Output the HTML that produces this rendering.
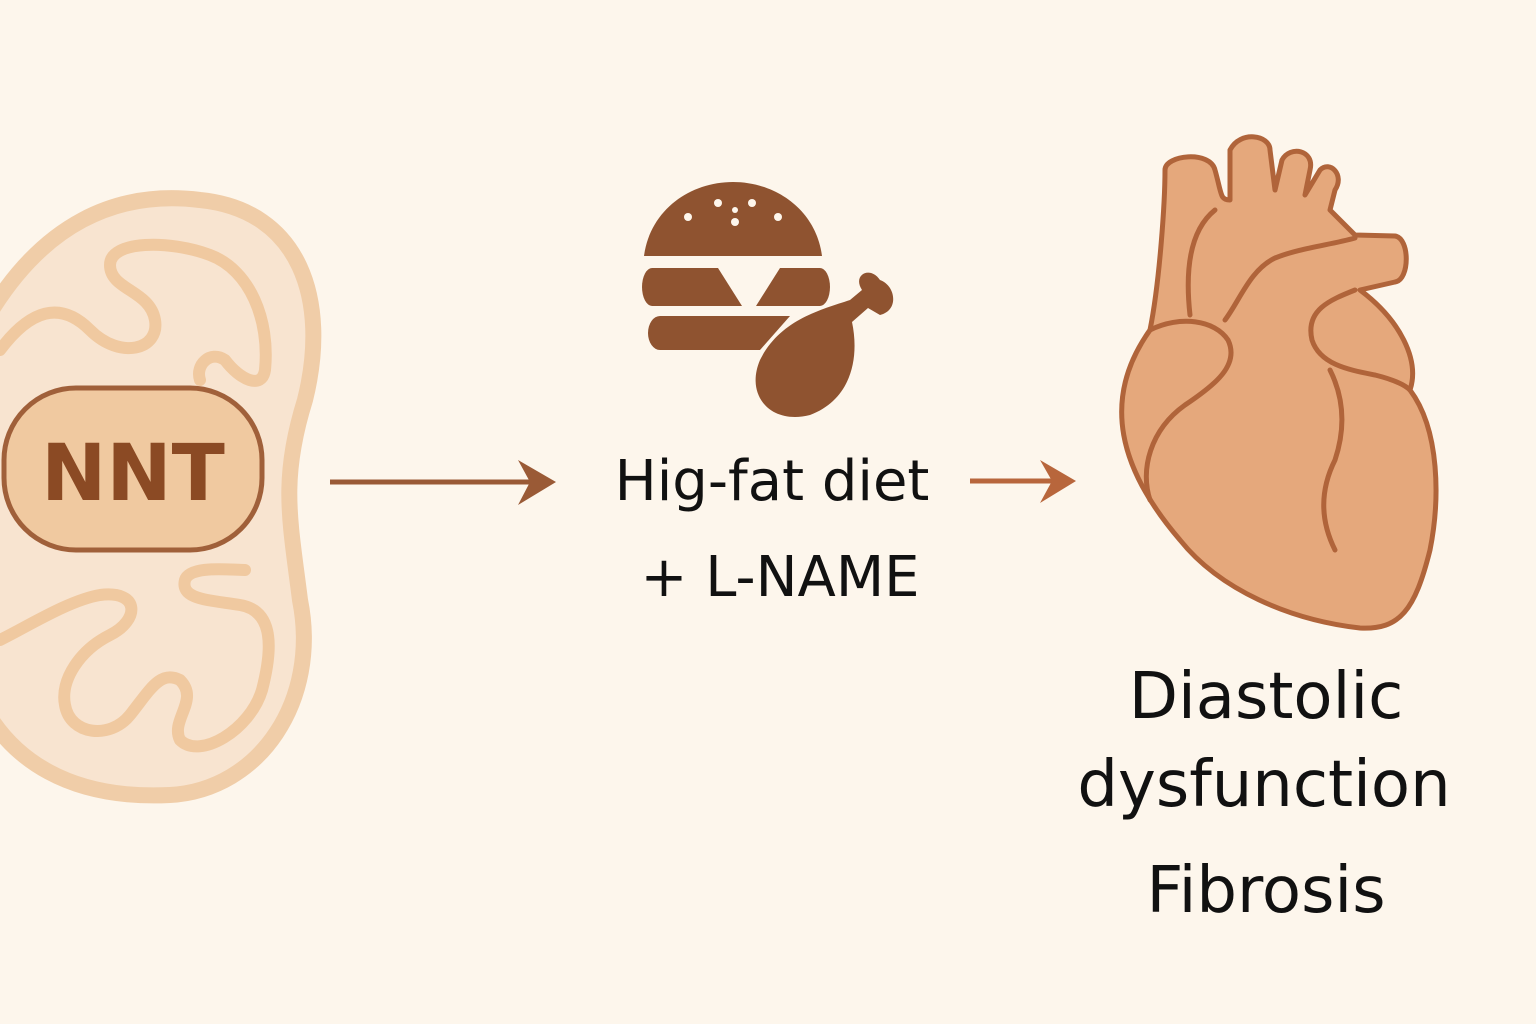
<!DOCTYPE html>
<html><head><meta charset="utf-8"><style>
html,body{margin:0;padding:0;background:#fdf6ec;}
svg{display:block;}
text{font-family:"DejaVu Sans","Liberation Sans",sans-serif;}
</style></head><body>
<svg width="1536" height="1024" viewBox="0 0 1536 1024" xmlns="http://www.w3.org/2000/svg">
<rect width="1536" height="1024" fill="#fdf6ec"/>
<path d="M-20 330 C40 220 120 190 200 200 C300 210 330 300 305 400 C280 480 290 520 300 600 C320 700 260 790 170 795 C70 800 10 760 -20 700 Z" fill="#f8e4d0" stroke="#f0cda8" stroke-width="16"/>
<g fill="none" stroke="#f0c9a0" stroke-width="12" stroke-linecap="round" stroke-linejoin="round">
<path d="M0 350 C30 310 60 300 90 330 C120 360 160 350 155 320 C150 290 110 290 110 265 C110 240 170 240 210 255 C250 270 270 320 265 370 C262 390 240 380 225 360 C210 350 195 365 200 380"/>
<path d="M0 640 C30 625 70 600 100 595 C140 590 140 620 110 635 C80 650 60 680 65 705 C70 735 110 740 130 715 C150 690 160 670 180 680 C200 700 170 720 180 740 C200 760 250 730 262 690 C275 640 270 610 240 605 C210 600 180 600 185 580 C190 565 230 570 245 570"/>
</g>
<rect x="4" y="388" width="258" height="162" rx="72" fill="#f0c9a0" stroke="#a0603a" stroke-width="5"/>
<text x="133" y="500" text-anchor="middle" font-size="78" fill="#8b4a24" font-weight="bold">NNT</text>
<line x1="330" y1="482" x2="540" y2="482" stroke="#9a5a36" stroke-width="5"/>
<path d="M518 460 L556 482 L518 505 L530 482 Z" fill="#9a5a36"/>
<line x1="970" y1="481" x2="1060" y2="481" stroke="#b8663c" stroke-width="5"/>
<path d="M1040 460 L1076 481 L1040 503 L1052 481 Z" fill="#b8663c"/>
<g fill="#8f5330">
<path d="M644 256 C650 210 690 182 733 182 C776 182 816 210 822 256 Z"/>
<path d="M652 268 H718 L742 306 H652 A10 19 0 0 1 652 268 Z"/>
<path d="M780 268 H820 A10 19 0 0 1 820 306 H756 Z"/>
<path d="M660 316 H790 L760 350 H660 A12 17 0 0 1 660 316 Z"/>
<path d="M760 360 C780 320 820 310 850 300 L862 290 C852 275 870 265 880 280 C895 285 900 310 880 315 L868 308 L852 322 C860 360 850 400 810 415 C770 425 745 395 760 360 Z"/>
</g>
<g fill="#fdf6ec"><circle cx="688" cy="217" r="4"/><circle cx="718" cy="203" r="4"/><circle cx="752" cy="203" r="4"/><circle cx="735" cy="222" r="4"/><circle cx="778" cy="217" r="4"/><circle cx="735" cy="210" r="3"/></g>
<text x="772" y="500" text-anchor="middle" font-size="56" fill="#111">Hig-fat diet</text>
<text x="780" y="596" text-anchor="middle" font-size="56" fill="#111">+ L-NAME</text>
<g stroke="#b0643a" stroke-width="5" stroke-linejoin="round" fill="#e5a87c">
<path d="M1150 330 C1160 280 1165 200 1165 170 C1165 155 1210 150 1215 170 C1222 195 1220 200 1230 200 L1230 150 C1240 130 1270 135 1270 150 L1275 190 L1282 160 C1290 145 1315 150 1310 170 L1305 195 L1320 170 C1330 160 1345 175 1335 190 L1330 210 L1355 235 L1395 236 C1410 238 1410 280 1395 282 L1360 290 C1400 320 1420 360 1410 390 C1440 430 1440 500 1430 550 C1415 610 1400 630 1360 628 C1290 620 1220 590 1180 540 C1120 470 1100 400 1150 330 Z"/>
</g>
<g fill="none" stroke="#b0643a" stroke-width="5" stroke-linecap="round">
<path d="M1150 330 C1180 315 1215 320 1228 340 C1240 365 1215 385 1185 405 C1150 430 1140 470 1150 500"/>
<path d="M1190 315 C1185 270 1190 230 1215 210"/>
<path d="M1225 320 C1240 300 1250 270 1275 258 C1300 248 1330 245 1355 238"/>
<path d="M1355 290 C1330 300 1305 310 1312 340 C1320 365 1350 370 1375 375 C1395 380 1405 385 1410 390"/>
<path d="M1330 370 C1345 400 1345 430 1335 460 C1320 490 1320 520 1335 550"/>
</g>
<text x="1266" y="718" text-anchor="middle" font-size="64" fill="#111">Diastolic</text>
<text x="1264" y="806" text-anchor="middle" font-size="64" fill="#111">dysfunction</text>
<text x="1266" y="912" text-anchor="middle" font-size="64" fill="#111">Fibrosis</text>
</svg>
</body></html>
